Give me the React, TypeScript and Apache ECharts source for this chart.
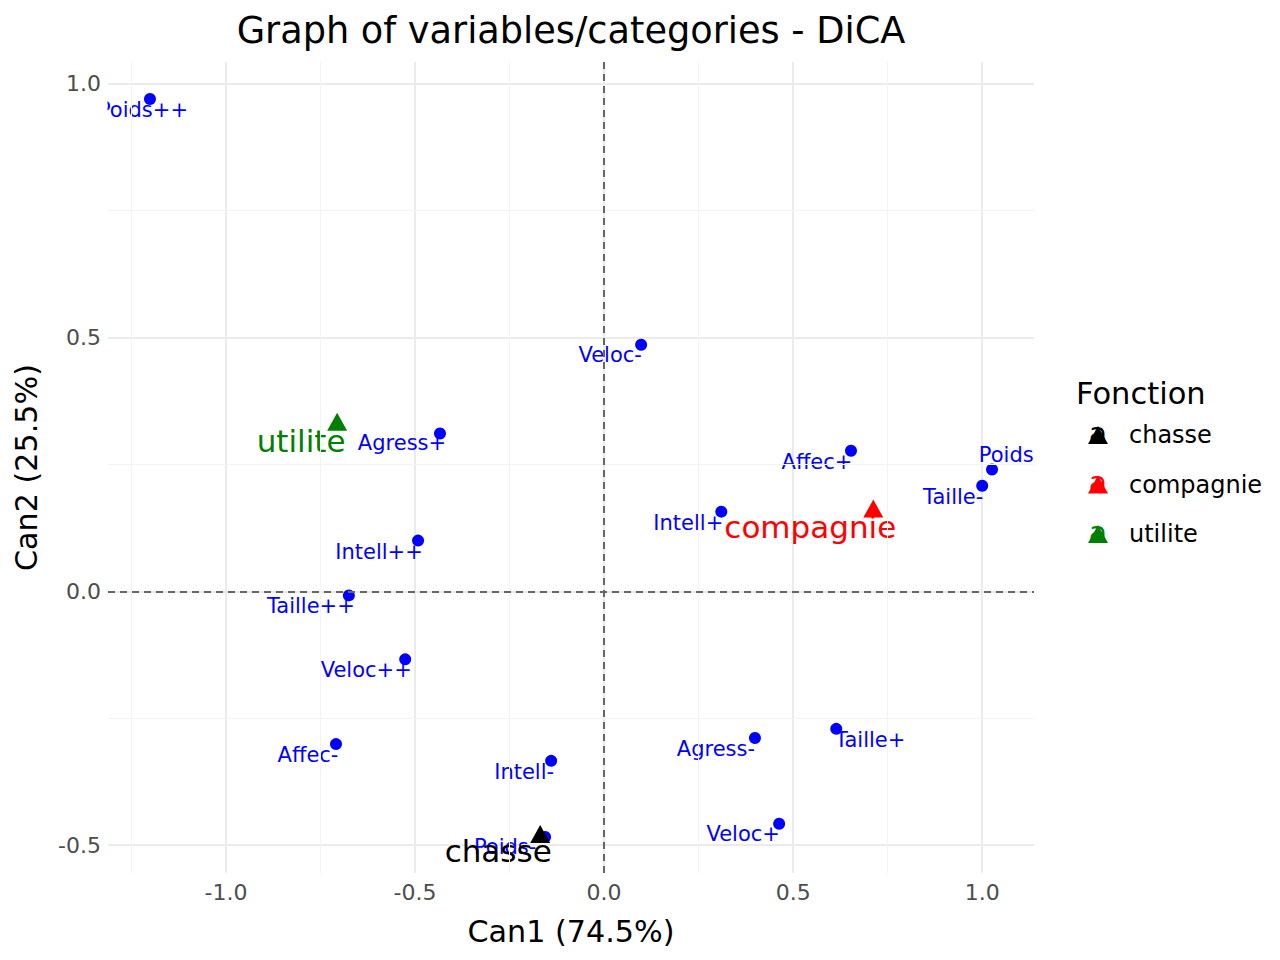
import React, { useEffect, useRef } from "react";
import * as echarts from "echarts";

// ---- data ----
const varNames = [
  "Poids++", "Veloc-", "Agress+", "Affec+", "Poids+", "Taille-", "Intell+", "Intell++",
  "Taille++", "Veloc++", "Affec-", "Intell-", "Agress-", "Taille+", "Veloc+", "Poids-",
];
const varCan1 = [
  -1.201, 0.098, -0.434, 0.653, 1.026, 1.0, 0.31, -0.492,
  -0.675, -0.526, -0.709, -0.14, 0.399, 0.614, 0.463, -0.156,
];
const varCan2 = [
  0.97, 0.486, 0.311, 0.277, 0.24, 0.208, 0.157, 0.1,
  -0.008, -0.134, -0.301, -0.334, -0.289, -0.271, -0.458, -0.484,
];
const groupNames = ["chasse", "compagnie", "utilite"];
const groupCan1 = [-0.169, 0.712, -0.706];
const groupCan2 = [-0.478, 0.163, 0.334];
const xLimits = [-1.312, 1.137];
const yLimits = [-0.555, 1.043];
const xMinorLines = [-1.25, -0.75, -0.25, 0.25, 0.75];
const yMinorLines = [-0.25, 0.25, 0.75];
const refLines = [0];

// ---- layout / style config ----
const groupColors = ["#000000", "#FF0000", "#008000"];
const varLabelOffset: Record<string, [number, number]> = {
  "Poids++": [-7, 11],
  "Veloc-": [-31, 10],
  "Agress+": [-38, 10],
  "Affec+": [-34, 11],
  "Poids+": [23, -15],
  "Taille-": [-29, 11],
  "Intell+": [-33, 11],
  "Intell++": [-39, 11],
  "Taille++": [-38, 11],
  "Veloc++": [-39, 11],
  "Affec-": [-28, 11],
  "Intell-": [-27, 11],
  "Agress-": [-39, 11],
  "Taille+": [34, 11],
  "Veloc+": [-36, 10],
  "Poids-": [-40, 10],
};
const groupLabelOffset: Record<string, [number, number]> = {
  chasse: [-42, 17],
  compagnie: [-63, 18],
  utilite: [-36, 19],
};
const FONT = "DejaVu Sans";
const GRID = { left: 108, top: 62, right: 246, bottom: 87 };
const LEGEND_LEFT = 1088;
const LEGEND_TOP = 423;
const LEGEND_STEP = 49.5;

export default function App() {
  const ref = useRef<HTMLDivElement>(null);
  useEffect(() => {
    document.body.style.margin = "0";
    if (!ref.current) return;
    const chart = echarts.init(ref.current, undefined, { renderer: "svg" });
    const plotCx = GRID.left + (1280 - GRID.left - GRID.right) / 2;
    const plotCy = GRID.top + (960 - GRID.top - GRID.bottom) / 2;

    const groupSeries = groupNames.map((g, i) => ({
      name: g,
      type: "scatter",
      z: 3,
      symbol: "triangle",
      symbolSize: [20, 18],
      itemStyle: { color: groupColors[i], opacity: 1 },
      label: {
        show: true,
        position: "inside",
        formatter: "{b}",
        color: groupColors[i],
        fontSize: 31,
        fontFamily: FONT,
        align: "center",
        verticalAlign: "middle",
        textBorderWidth: 0,
        textBorderColor: "transparent",
      },
      data: [
        {
          name: g,
          value: [groupCan1[i], groupCan2[i]],
          label: { offset: groupLabelOffset[g] },
        },
      ],
    }));

    const option: any = {
      animation: false,
      backgroundColor: "#FFFFFF",
      textStyle: { fontFamily: FONT },
      grid: { ...GRID, containLabel: false },
      xAxis: {
        type: "value",
        min: xLimits[0],
        max: xLimits[1],
        splitNumber: 5,
        axisLine: { show: false },
        axisTick: { show: false },
        axisLabel: {
          color: "#4D4D4D",
          fontSize: 22,
          fontFamily: FONT,
          margin: 8,
          showMinLabel: false,
          showMaxLabel: false,
          formatter: (v: number) => v.toFixed(1),
        },
        splitLine: {
          show: true,
          showMinLine: false,
          showMaxLine: false,
          lineStyle: { color: "#EBEBEB", width: 2 },
        },
      },
      yAxis: {
        type: "value",
        min: yLimits[0],
        max: yLimits[1],
        splitNumber: 3,
        axisLine: { show: false },
        axisTick: { show: false },
        axisLabel: {
          color: "#4D4D4D",
          fontSize: 22,
          fontFamily: FONT,
          margin: 7,
          showMinLabel: false,
          showMaxLabel: false,
          formatter: (v: number) => v.toFixed(1),
        },
        splitLine: {
          show: true,
          showMinLine: false,
          showMaxLine: false,
          lineStyle: { color: "#EBEBEB", width: 2 },
        },
      },
      legend: {
        data: groupNames.map((n) => ({ name: n, icon: "triangle" })),
        orient: "vertical",
        left: LEGEND_LEFT,
        top: LEGEND_TOP,
        padding: 0,
        itemWidth: 20,
        itemHeight: 18,
        itemGap: LEGEND_STEP - 24,
        selectedMode: false,
        textStyle: {
          fontSize: 24,
          fontFamily: FONT,
          color: "#000000",
          padding: [0, 0, 0, 16],
        },
      },
      series: [
        {
          name: "minorGrid",
          type: "scatter",
          z: 1,
          data: [],
          silent: true,
          markLine: {
            silent: true,
            symbol: ["none", "none"],
            label: { show: false },
            lineStyle: { color: "#F3F3F3", width: 1, type: "solid" },
            emphasis: { disabled: true },
            data: [
              ...xMinorLines.map((v) => ({ xAxis: v })),
              ...yMinorLines.map((v) => ({ yAxis: v })),
            ],
          },
        },
        {
          name: "refLines",
          type: "scatter",
          z: 1,
          data: [],
          silent: true,
          markLine: {
            silent: true,
            symbol: ["none", "none"],
            label: { show: false },
            lineStyle: { color: "#666666", width: 2, type: [7, 5] },
            emphasis: { disabled: true },
            data: [
              ...refLines.map((v) => ({ xAxis: v })),
              ...refLines.map((v) => ({ yAxis: v })),
            ],
          },
        },
        {
          name: "variables",
          type: "scatter",
          z: 2,
          symbol: "circle",
          symbolSize: 12,
          itemStyle: { color: "#0000FF", opacity: 1 },
          label: {
            show: true,
            position: "inside",
            formatter: "{b}",
            color: "#0000FF",
            fontSize: 21,
            fontFamily: FONT,
            align: "center",
            verticalAlign: "middle",
            textBorderWidth: 0,
            textBorderColor: "transparent",
          },
          data: varNames.map((n, i) => ({
            name: n,
            value: [varCan1[i], varCan2[i]],
            label: { offset: varLabelOffset[n] },
          })),
        },
        ...groupSeries,
      ],
      graphic: [
        {
          type: "text",
          x: plotCx,
          y: 30,
          style: {
            text: "Graph of variables/categories - DiCA",
            fontSize: 36.7,
            fontFamily: FONT,
            fill: "#000000",
            align: "center",
            verticalAlign: "middle",
          },
        },
        {
          type: "text",
          x: plotCx,
          y: 931,
          style: {
            text: "Can1 (74.5%)",
            fontSize: 30.2,
            fontFamily: FONT,
            fill: "#000000",
            align: "center",
            verticalAlign: "middle",
          },
        },
        {
          type: "text",
          x: 26,
          y: plotCy,
          rotation: Math.PI / 2,
          style: {
            text: "Can2 (25.5%)",
            fontSize: 30.2,
            fontFamily: FONT,
            fill: "#000000",
            align: "center",
            verticalAlign: "middle",
          },
        },
        {
          type: "text",
          x: 1076,
          y: 393,
          style: {
            text: "Fonction",
            fontSize: 30.5,
            fontFamily: FONT,
            fill: "#000000",
            align: "left",
            verticalAlign: "middle",
          },
        },
        ...groupNames.map((g, i) => ({
          type: "text",
          x: LEGEND_LEFT + 10,
          y: LEGEND_TOP + 10 + i * LEGEND_STEP,
          z: 50,
          style: {
            text: "a",
            fontSize: 30,
            fontFamily: FONT,
            fill: groupColors[i],
            align: "center",
            verticalAlign: "middle",
          },
        })),
        // panel clipping masks (labels outside the panel are clipped in the original)
        {
          type: "rect",
          z: 100,
          shape: { x: 80, y: 98, width: GRID.left - 80 - 0.5, height: 26 },
          style: { fill: "#FFFFFF" },
        },
        {
          type: "rect",
          z: 100,
          shape: { x: 1280 - GRID.right + 0.5, y: 440, width: 30, height: 32 },
          style: { fill: "#FFFFFF" },
        },
      ],
    };
    chart.setOption(option);
    return () => chart.dispose();
  }, []);
  return <div ref={ref} style={{ width: 1280, height: 960 }} />;
}
